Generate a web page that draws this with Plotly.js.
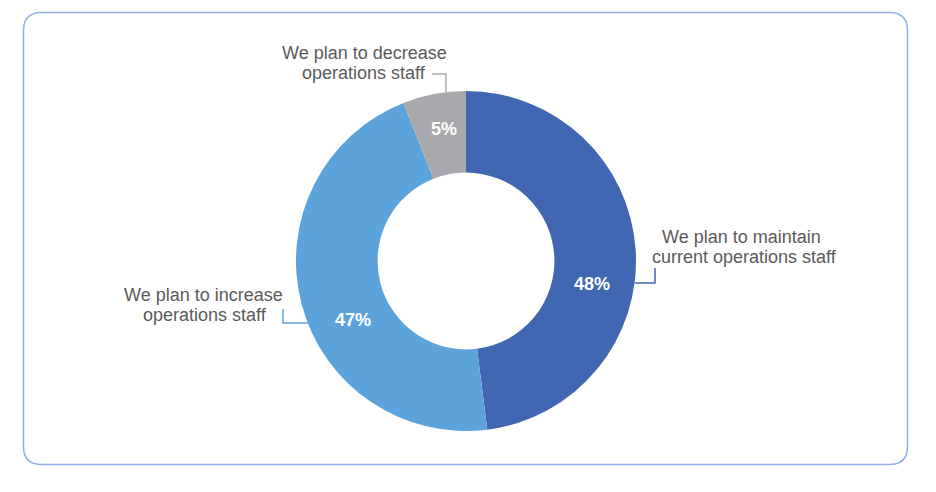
<!DOCTYPE html>
<html>
<head>
<meta charset="utf-8">
<script src="https://cdn.plot.ly/plotly-3.0.1.min.js"></script>
<style>
html,body{margin:0;padding:0;background:#fff;}
#chart{width:936px;height:492px;}
</style>
</head>
<body>
<div id="chart"></div>
<script>
// Categories (two text lines each)
const labelLine1 = ["We plan to maintain", "We plan to increase", "We plan to decrease"];
const labelLine2 = ["current operations staff", "operations staff", "operations staff"];
// Shares as drawn in the ring
const values = [48, 46, 6];
// Percentages as printed on the slices
const percentText = ["48%", "47%", "5%"];
const colors = ["#4267B2", "#5DA3DB", "#A8A9AD"];

const W = 936, H = 492;
const px = x => x / W;
const py = y => 1 - y / H;

// donut geometry (pixels)
const cx = 466, cy = 261, R = 170;

function roundedRect(x0, y0, x1, y1, r) {
  return "M" + px(x0 + r) + "," + py(y0) +
    " L" + px(x1 - r) + "," + py(y0) +
    " Q" + px(x1) + "," + py(y0) + " " + px(x1) + "," + py(y0 + r) +
    " L" + px(x1) + "," + py(y1 - r) +
    " Q" + px(x1) + "," + py(y1) + " " + px(x1 - r) + "," + py(y1) +
    " L" + px(x0 + r) + "," + py(y1) +
    " Q" + px(x0) + "," + py(y1) + " " + px(x0) + "," + py(y1 - r) +
    " L" + px(x0) + "," + py(y0 + r) +
    " Q" + px(x0) + "," + py(y0) + " " + px(x0 + r) + "," + py(y0) + " Z";
}

function polyline(pts) {
  return pts.map((p, i) => (i ? "L" : "M") + px(p[0]) + "," + py(p[1])).join(" ");
}

// label placements (pixels)
const place = [
  {x1: 741, y1: 237, x2: 744, y2: 257, vx: 592, vy: 284, lead: [[635, 283], [655, 283], [655, 268]]},
  {x1: 203, y1: 295, x2: 205, y2: 315, vx: 353, vy: 320, lead: [[309, 323], [283, 323], [283, 309]]},
  {x1: 364, y1: 53,  x2: 364, y2: 73,  vx: 444, vy: 129, lead: [[446, 92], [446, 74], [432, 74]]}
];

const labelFont = {family: "Liberation Sans, Arial, sans-serif", size: 18, color: "#5A5A5A"};
const pctFont = {family: "Liberation Sans Narrow, Arial Narrow, Liberation Sans, sans-serif", size: 18, color: "#FFFFFF"};

const annotations = [];
const shapes = [{
  type: "path", xref: "paper", yref: "paper",
  path: roundedRect(23.5, 12.5, 907.5, 464.5, 18),
  line: {color: "#8DB0E0", width: 1.5}
}];

values.forEach((v, i) => {
  const p = place[i];
  annotations.push({xref: "paper", yref: "paper", x: px(p.x1), y: py(p.y1),
    xanchor: "center", yanchor: "middle", text: labelLine1[i], showarrow: false, font: labelFont});
  annotations.push({xref: "paper", yref: "paper", x: px(p.x2), y: py(p.y2),
    xanchor: "center", yanchor: "middle", text: labelLine2[i], showarrow: false, font: labelFont});
  annotations.push({xref: "paper", yref: "paper", x: px(p.vx), y: py(p.vy),
    xanchor: "center", yanchor: "middle", text: "<b>" + percentText[i] + "</b>", showarrow: false, font: pctFont});
  shapes.push({type: "path", xref: "paper", yref: "paper",
    path: polyline(p.lead), line: {color: colors[i], width: 1.5}});
});

const data = [{
  type: "pie",
  labels: labelLine1.map((l, i) => l + " " + labelLine2[i]),
  values: values,
  sort: false,
  direction: "clockwise",
  rotation: 0,
  hole: 0.52,
  textinfo: "none",
  marker: {colors: colors, line: {width: 0}},
  domain: {x: [px(cx - R), px(cx + R)], y: [py(cy + R), py(cy - R)]},
  showlegend: false
}];

const layout = {
  width: W, height: H,
  margin: {l: 0, r: 0, t: 0, b: 0},
  paper_bgcolor: "#FFFFFF",
  showlegend: false,
  annotations: annotations,
  shapes: shapes
};

Plotly.newPlot("chart", data, layout, {displayModeBar: false, staticPlot: true});
</script>
</body>
</html>
